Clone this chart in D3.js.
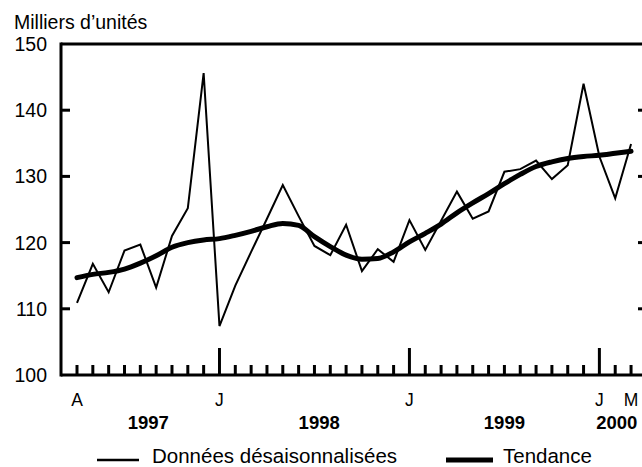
<!DOCTYPE html>
<html>
<head>
<meta charset="utf-8">
<script src="https://cdn.jsdelivr.net/npm/d3@7"></script>
<style>
  body { margin: 0; background: #fff; }
  text { font-family: "Liberation Sans", Arial, sans-serif; fill: #000; }
</style>
</head>
<body>
<div id="chart"></div>
<script>
// données mensuelles, avril 1997 à mars 2000
const mois = ["A","M","J","J","A","S","O","N","D",
  "J","F","M","A","M","J","J","A","S","O","N","D",
  "J","F","M","A","M","J","J","A","S","O","N","D",
  "J","F","M"];
const donnees = [110.9, 116.8, 112.5, 118.8, 119.7, 113.2, 121.0, 125.2, 145.6,
  107.4, 113.5, 118.6, 123.6, 128.7, 124.0, 119.5, 118.1, 122.7, 115.7, 119.0, 117.1,
  123.4, 118.9, 123.3, 127.7, 123.6, 124.7, 130.7, 131.1, 132.4, 129.6, 131.7, 144.0,
  133.0, 126.7, 134.9];
const tendance = [114.7, 115.2, 115.5, 116.0, 116.9, 118.0, 119.3, 120.0, 120.4,
  120.6, 121.1, 121.7, 122.4, 122.9, 122.6, 120.9, 119.4, 118.1, 117.5, 117.6, 118.6,
  120.1, 121.4, 122.8, 124.5, 126.0, 127.4, 128.9, 130.3, 131.5, 132.2, 132.7, 133.0,
  133.2, 133.5, 133.8];
const moisLabels = [{i: 0, t: "A"}, {i: 9, t: "J"}, {i: 21, t: "J"}, {i: 33, t: "J"}, {i: 35, t: "M"}];
const annees = [{a: 0, b: 9, t: "1997"}, {a: 9.6, b: 21, t: "1998"}, {a: 21, b: 33, t: "1999"}, {a: 33, b: 35.2, t: "2000"}];
const yTicks = [100, 110, 120, 130, 140, 150];

const width = 642, height = 467;
const mLeft = 61, mRight = 647, mTop = 44, mBottom = 375;

const svg = d3.select("#chart").append("svg")
  .attr("width", width).attr("height", height);

const x = d3.scaleLinear().domain([0, 1]).range([77, 92.83]);
const y = d3.scaleLinear().domain([100, 150]).range([mBottom, mTop]);

// cadre
svg.append("line").attr("x1", mLeft).attr("x2", mRight).attr("y1", mTop).attr("y2", mTop)
  .attr("stroke", "#000").attr("stroke-width", 3);
svg.append("line").attr("x1", mLeft).attr("x2", mLeft).attr("y1", mTop - 1.5).attr("y2", mBottom + 1.5)
  .attr("stroke", "#000").attr("stroke-width", 3);
svg.append("line").attr("x1", mRight).attr("x2", mRight).attr("y1", mTop).attr("y2", mBottom)
  .attr("stroke", "#000").attr("stroke-width", 3);
svg.append("line").attr("x1", mLeft).attr("x2", mRight).attr("y1", mBottom).attr("y2", mBottom)
  .attr("stroke", "#000").attr("stroke-width", 3);

// graduations y
const gy = svg.append("g");
yTicks.filter(v => v > 100 && v < 150).forEach(v => {
  gy.append("line").attr("x1", mLeft).attr("x2", mLeft + 9).attr("y1", y(v)).attr("y2", y(v))
    .attr("stroke", "#000").attr("stroke-width", 3);
  gy.append("line").attr("x1", mRight).attr("x2", mRight - 9).attr("y1", y(v)).attr("y2", y(v))
    .attr("stroke", "#000").attr("stroke-width", 3);
});
gy.selectAll("text").data(yTicks).enter().append("text")
  .attr("x", 47).attr("y", d => y(d)).attr("dy", "0.36em")
  .attr("text-anchor", "end").attr("font-size", 19.5)
  .text(d => d);

// graduations x
const gx = svg.append("g");
mois.forEach((m, i) => {
  const big = m === "J" && (i === 9 || i === 21 || i === 33);
  gx.append("line").attr("x1", x(i)).attr("x2", x(i))
    .attr("y1", mBottom).attr("y2", mBottom - (big ? 27 : 10))
    .attr("stroke", "#000").attr("stroke-width", 3);
});
gx.selectAll(".mois").data(moisLabels).enter().append("text")
  .attr("x", d => x(d.i)).attr("y", 406)
  .attr("text-anchor", "middle").attr("font-size", 17.5)
  .text(d => d.t);
gx.selectAll(".annee").data(annees).enter().append("text")
  .attr("x", d => (x(d.a) + x(d.b)) / 2).attr("y", 428.5)
  .attr("text-anchor", "middle").attr("font-size", 18.5).attr("font-weight", "bold")
  .text(d => d.t);

// titre
svg.append("text").attr("x", 14).attr("y", 29).attr("font-size", 19.5)
  .text("Milliers d’unités");

// séries
const lineD = d3.line().x((d, i) => x(i)).y(d => y(d));
const lineT = d3.line().x((d, i) => x(i)).y(d => y(d)).curve(d3.curveMonotoneX);

svg.append("path").datum(tendance).attr("d", lineT)
  .attr("fill", "none").attr("stroke", "#000").attr("stroke-width", 5)
  .attr("stroke-linecap", "round");
svg.append("path").datum(donnees).attr("d", lineD)
  .attr("fill", "none").attr("stroke", "#000").attr("stroke-width", 2)
  .attr("stroke-linejoin", "miter");

// légende
svg.append("line").attr("x1", 97).attr("x2", 139).attr("y1", 460).attr("y2", 460)
  .attr("stroke", "#000").attr("stroke-width", 2.5);
svg.append("text").attr("x", 152).attr("y", 462.5).attr("font-size", 20.5)
  .text("Données désaisonnalisées");
svg.append("line").attr("x1", 446).attr("x2", 493).attr("y1", 460).attr("y2", 460)
  .attr("stroke", "#000").attr("stroke-width", 5);
svg.append("text").attr("x", 503).attr("y", 462.5).attr("font-size", 20.5)
  .text("Tendance");
</script>
</body>
</html>
